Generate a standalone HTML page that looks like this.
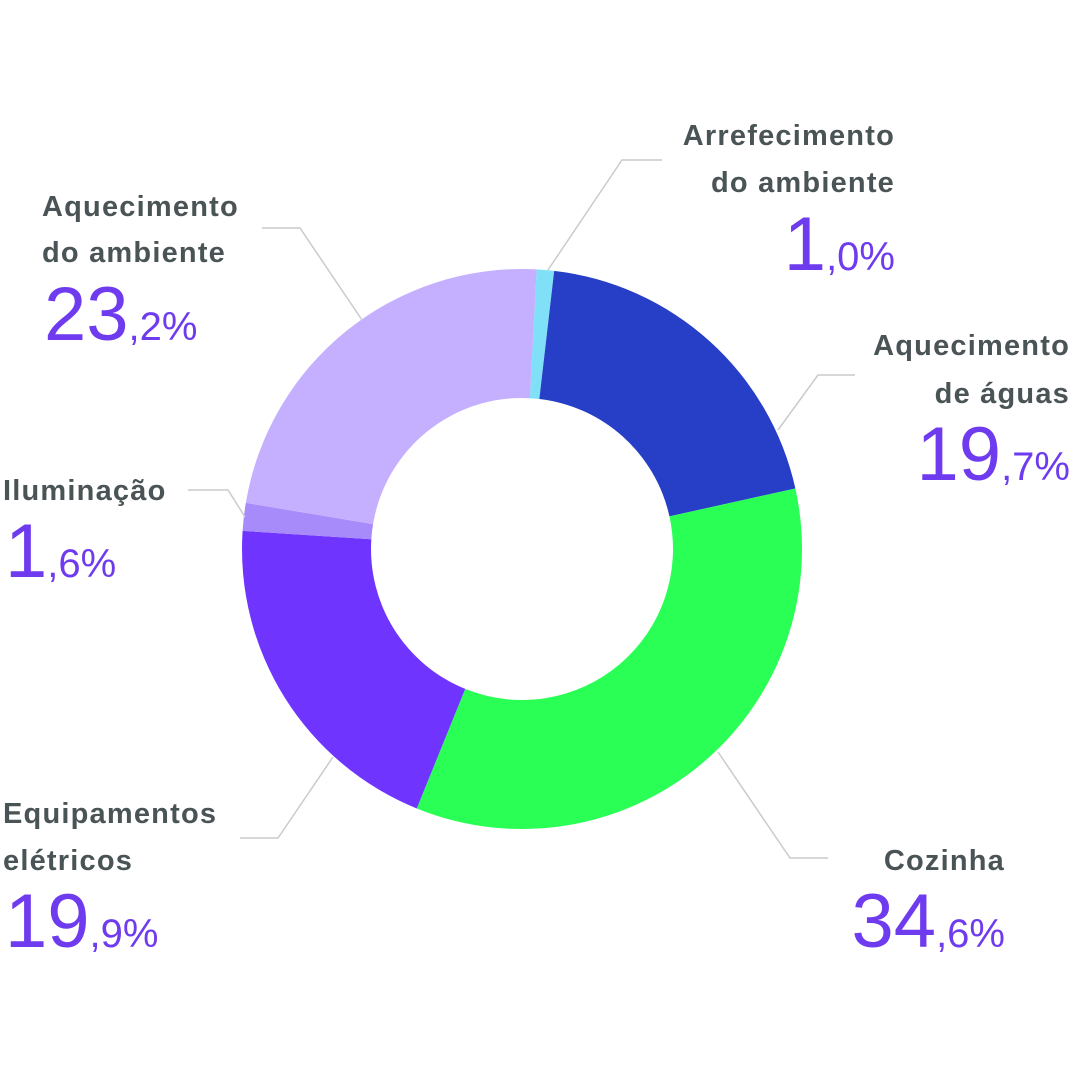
<!DOCTYPE html>
<html><head><meta charset="utf-8"><style>
html,body{margin:0;padding:0;background:#fff;width:1074px;height:1074px;overflow:hidden}
text{font-family:"Liberation Sans",sans-serif}
.l{font-size:29px;font-weight:bold;fill:#4a5456;letter-spacing:1.2px}
.n{font-size:76px;fill:#6e3bef}
.d{font-size:40px;fill:#6e3bef}
</style></head><body>
<svg width="1074" height="1074" viewBox="0 0 1074 1074" xmlns="http://www.w3.org/2000/svg">
<g id="donut"></g>
<g stroke="#c8cccc" stroke-width="1.5" fill="none">
<polyline points="548,270 622,160 662,160"/>
<polyline points="778,430 818,375 855,375"/>
<polyline points="718,752 790,858 828,858"/>
<polyline points="333,757 278,838 240,838"/>
<polyline points="245,517 228,490 188,490"/>
<polyline points="362,320 300,228 262,228"/>
</g>
<text class="l" x="895" y="145" text-anchor="end">Arrefecimento</text>
<text class="l" x="895" y="192" text-anchor="end">do ambiente</text>
<text x="895" y="270" text-anchor="end"><tspan class="n">1</tspan><tspan class="d">,0%</tspan></text>
<text class="l" x="42" y="216">Aquecimento</text>
<text class="l" x="42" y="262">do ambiente</text>
<text x="44" y="340"><tspan class="n">23</tspan><tspan class="d">,2%</tspan></text>
<text class="l" x="1070" y="355" text-anchor="end">Aquecimento</text>
<text class="l" x="1070" y="403" text-anchor="end">de águas</text>
<text x="1070" y="480" text-anchor="end"><tspan class="n">19</tspan><tspan class="d">,7%</tspan></text>
<text class="l" x="3" y="500">Iluminação</text>
<text x="5" y="577"><tspan class="n">1</tspan><tspan class="d">,6%</tspan></text>
<text class="l" x="3" y="823">Equipamentos</text>
<text class="l" x="3" y="870">elétricos</text>
<text x="5" y="947"><tspan class="n">19</tspan><tspan class="d">,9%</tspan></text>
<text class="l" x="1005" y="870" text-anchor="end">Cozinha</text>
<text x="1005" y="947" text-anchor="end"><tspan class="n">34</tspan><tspan class="d">,6%</tspan></text>
</svg>
<script>
(function(){
var cx=522,cy=549,R=280,r=151,a=3;
var d=[[1.0,"#7fe0f7"],[19.7,"#273ec6"],[34.6,"#2aff55"],[19.9,"#7034ff"],[1.6,"#a78bfa"],[23.2,"#c4b0ff"]];
var g=document.getElementById("donut"),s="";
function p(rad,ang){var t=ang*Math.PI/180;return [cx+rad*Math.sin(t),cy-rad*Math.cos(t)];}
d.forEach(function(x){var b=a+x[0]*3.6,l=(b-a)>180?1:0;
var p1=p(R,a),p2=p(R,b),p3=p(r,b),p4=p(r,a);
s+='<path fill="'+x[1]+'" d="M'+p1+' A'+R+','+R+' 0 '+l+' 1 '+p2+' L'+p3+' A'+r+','+r+' 0 '+l+' 0 '+p4+'Z"/>';a=b;});
g.innerHTML=s;
})();
</script>
</body></html>
